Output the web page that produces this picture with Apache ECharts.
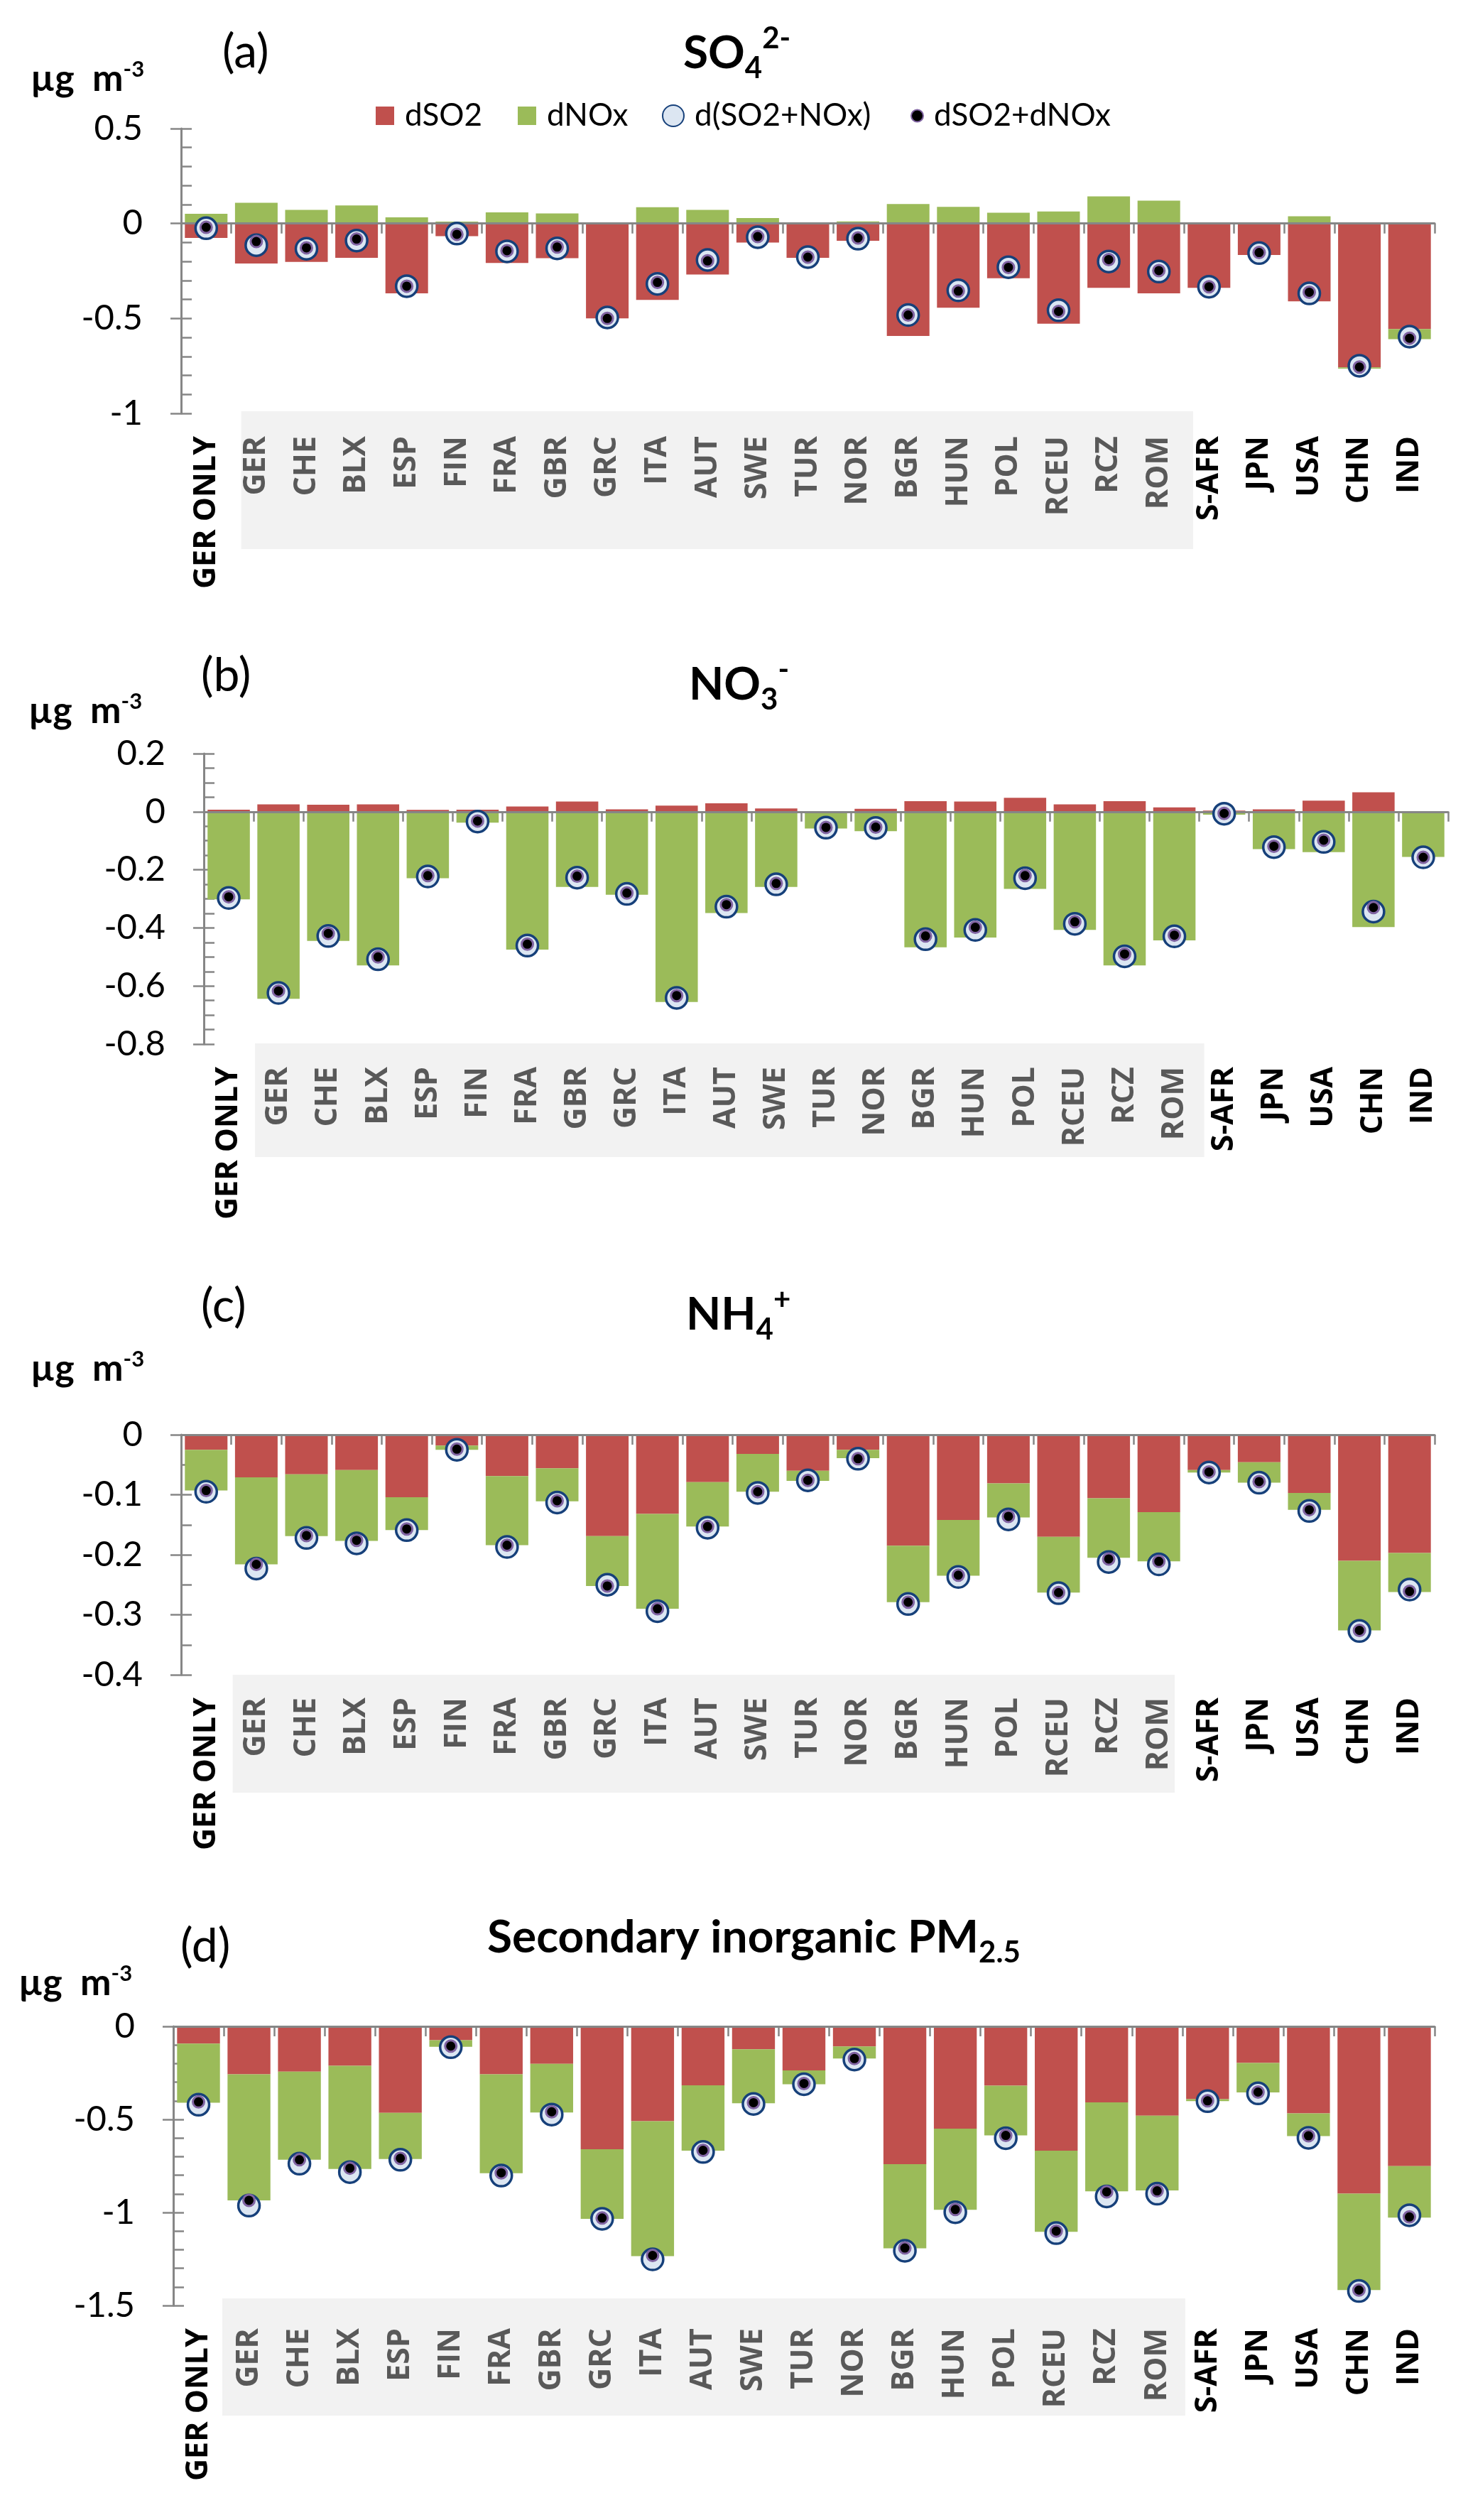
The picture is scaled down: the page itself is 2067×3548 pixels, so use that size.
<!DOCTYPE html>
<html><head><meta charset="utf-8">
<script src="https://cdn.jsdelivr.net/npm/echarts@6/dist/echarts.min.js"></script>
<style>html,body{margin:0;padding:0;background:#fff}#c{width:2067px;height:3548px}</style>
</head><body><div id="c"></div>
<script>
// ---------------- DATA ----------------
const categories = ['GER ONLY','GER','CHE','BLX','ESP','FIN','FRA','GBR','GRC','ITA','AUT','SWE','TUR','NOR','BGR','HUN','POL','RCEU','RCZ','ROM','S-AFR','JPN','USA','CHN','IND'];
const legendNames = ['dSO2','dNOx','d(SO2+NOx)','dSO2+dNOx'];

// (a) SO4 2-
const so4_dSO2  = [-0.076,-0.211,-0.202,-0.181,-0.368,-0.067,-0.208,-0.183,-0.500,-0.402,-0.269,-0.100,-0.181,-0.091,-0.592,-0.444,-0.288,-0.528,-0.339,-0.368,-0.339,-0.166,-0.410,-0.758,-0.556];
const so4_dNOx  = [0.051,0.109,0.072,0.095,0.032,0.010,0.059,0.053,0.000,0.086,0.072,0.029,0.000,0.011,0.103,0.088,0.057,0.063,0.143,0.120,0.000,0.004,0.038,-0.006,-0.053];
const so4_dBoth = [-0.025,-0.114,-0.133,-0.090,-0.330,-0.053,-0.147,-0.131,-0.495,-0.318,-0.192,-0.072,-0.177,-0.080,-0.482,-0.352,-0.230,-0.457,-0.200,-0.253,-0.333,-0.156,-0.368,-0.749,-0.596];
const so4_dSum  = [-0.020,-0.095,-0.128,-0.082,-0.330,-0.057,-0.143,-0.124,-0.500,-0.310,-0.197,-0.069,-0.177,-0.076,-0.482,-0.356,-0.231,-0.463,-0.190,-0.248,-0.333,-0.153,-0.362,-0.756,-0.604];
const so4_ticks = [-1,-0.5,0,0.5];

// (b) NO3-
const no3_dSO2  = [0.007,0.025,0.024,0.025,0.006,0.007,0.018,0.035,0.008,0.021,0.029,0.011,0.000,0.010,0.036,0.035,0.048,0.025,0.036,0.015,0.004,0.008,0.038,0.067,0.000];
const no3_dNOx  = [-0.302,-0.644,-0.445,-0.529,-0.229,-0.038,-0.475,-0.259,-0.286,-0.655,-0.349,-0.259,-0.058,-0.067,-0.467,-0.433,-0.266,-0.407,-0.529,-0.443,-0.010,-0.129,-0.139,-0.397,-0.156];
const no3_dBoth = [-0.297,-0.624,-0.428,-0.508,-0.223,-0.034,-0.461,-0.227,-0.283,-0.641,-0.327,-0.250,-0.055,-0.056,-0.439,-0.407,-0.229,-0.386,-0.498,-0.429,-0.007,-0.122,-0.104,-0.344,-0.157];
const no3_dSum  = [-0.293,-0.617,-0.419,-0.500,-0.220,-0.032,-0.456,-0.222,-0.280,-0.633,-0.320,-0.247,-0.054,-0.053,-0.428,-0.398,-0.220,-0.379,-0.490,-0.425,-0.006,-0.119,-0.098,-0.330,-0.157];
const no3_ticks = [-0.8,-0.6,-0.4,-0.2,0,0.2];

// (c) NH4+
const nh4_dSO2  = [-0.025,-0.071,-0.066,-0.059,-0.104,-0.018,-0.069,-0.056,-0.169,-0.132,-0.079,-0.032,-0.060,-0.025,-0.185,-0.142,-0.081,-0.170,-0.106,-0.129,-0.059,-0.046,-0.097,-0.210,-0.197];
const nh4_dNOx  = [-0.068,-0.145,-0.103,-0.118,-0.055,-0.007,-0.115,-0.055,-0.083,-0.158,-0.074,-0.063,-0.017,-0.014,-0.094,-0.093,-0.057,-0.093,-0.099,-0.082,-0.004,-0.034,-0.028,-0.116,-0.065];
const nh4_dBoth = [-0.095,-0.223,-0.172,-0.181,-0.159,-0.025,-0.187,-0.113,-0.250,-0.294,-0.155,-0.097,-0.076,-0.040,-0.282,-0.237,-0.141,-0.264,-0.212,-0.216,-0.063,-0.080,-0.127,-0.327,-0.258];
const nh4_dSum  = [-0.093,-0.216,-0.168,-0.176,-0.157,-0.024,-0.184,-0.110,-0.252,-0.290,-0.153,-0.095,-0.076,-0.040,-0.279,-0.234,-0.136,-0.263,-0.207,-0.211,-0.062,-0.078,-0.125,-0.326,-0.261];
const nh4_ticks = [-0.4,-0.3,-0.2,-0.1,0];

// (d) Secondary inorganic PM2.5
const sia_dSO2  = [-0.093,-0.258,-0.243,-0.212,-0.465,-0.074,-0.258,-0.201,-0.660,-0.510,-0.317,-0.123,-0.237,-0.108,-0.740,-0.550,-0.319,-0.668,-0.408,-0.480,-0.391,-0.197,-0.468,-0.899,-0.751];
const sia_dNOx  = [-0.317,-0.677,-0.474,-0.554,-0.248,-0.036,-0.531,-0.262,-0.374,-0.725,-0.351,-0.290,-0.074,-0.065,-0.453,-0.436,-0.267,-0.436,-0.478,-0.402,-0.011,-0.158,-0.122,-0.518,-0.277];
const sia_dBoth = [-0.421,-0.963,-0.738,-0.783,-0.717,-0.112,-0.802,-0.474,-1.034,-1.252,-0.675,-0.417,-0.311,-0.178,-1.206,-0.999,-0.601,-1.111,-0.914,-0.899,-0.402,-0.360,-0.599,-1.422,-1.015];
const sia_dSum  = [-0.406,-0.935,-0.717,-0.762,-0.709,-0.106,-0.787,-0.459,-1.030,-1.231,-0.666,-0.410,-0.307,-0.173,-1.191,-0.984,-0.586,-1.100,-0.889,-0.884,-0.400,-0.353,-0.588,-1.417,-1.024];
const sia_ticks = [-1.5,-1,-0.5,0];

// ---------------- LAYOUT ----------------
const panels = [
  {tag:'(a)', title:'{m|SO}{sub|4}{sup|2-}', d:[so4_dSO2,so4_dNOx,so4_dBoth,so4_dSum], ticks:so4_ticks, minor:5,
   L:{grid:{left:255,top:181,width:1765,height:401}, tx:962, ty:75, gx:313, gy:74, ux:43, uy:111, box:[14,13,-3,194]}},
  {tag:'(b)', title:'{m|NO}{sub|3}{sup|-}', d:[no3_dSO2,no3_dNOx,no3_dBoth,no3_dSum], ticks:no3_ticks, minor:4,
   L:{grid:{left:287,top:1061,width:1752,height:409}, tx:970, ty:964, gx:283, gy:952, ux:40, uy:1001, box:[2,7,-1,160]}},
  {tag:'(c)', title:'{m|NH}{sub|4}{sup|+}', d:[nh4_dSO2,nh4_dNOx,nh4_dBoth,nh4_dSum], ticks:nh4_ticks, minor:2,
   L:{grid:{left:255,top:2020,width:1765,height:338}, tx:966, ty:1851, gx:283, gy:1840, ux:43, uy:1927, box:[2,-13,0,166]}},
  {tag:'(d)', title:'{m|Secondary inorganic PM}{sub|2.5}', d:[sia_dSO2,sia_dNOx,sia_dBoth,sia_dSum], ticks:sia_ticks, minor:5,
   L:{grid:{left:244,top:2853,width:1776,height:393}, tx:686, ty:2728, gx:254, gy:2741, ux:26, uy:2792, box:[-2,4,-10,165]}}
];

const AX = '#868686';
const FONT = 'Lato';
const titleRich = {
  m:{fontFamily:FONT, fontWeight:'bold', fontSize:64, lineHeight:84, color:'#000'},
  sub:{fontFamily:FONT, fontWeight:'bold', fontSize:42, lineHeight:35, verticalAlign:'bottom', color:'#000'},
  sup:{fontFamily:FONT, fontWeight:'bold', fontSize:42, lineHeight:60, verticalAlign:'top', color:'#000'}
};
const unitRich = {
  u:{fontFamily:FONT, fontWeight:'bold', fontSize:52, lineHeight:58, color:'#000'},
  s:{fontFamily:FONT, fontWeight:'bold', fontSize:31, lineHeight:30, verticalAlign:'top', color:'#000'}
};

const chart = echarts.init(document.getElementById('c'), null, {renderer:'canvas', width:2067, height:3548});
const option = {backgroundColor:'#ffffff', animation:false, grid:[], xAxis:[], yAxis:[], series:[], title:[], legend:[]};

panels.forEach((p, i) => {
  const L = p.L;
  option.grid.push(Object.assign({containLabel:false, outerBoundsMode:'none', show:false}, L.grid));
  // axis line at zero with ticks
  option.xAxis.push({type:'category', data:categories, gridIndex:i, position:'bottom', z:5,
    axisLine:{show:true, onZero:true, lineStyle:{color:AX, width:3}},
    axisTick:{show:true, length:14, interval:0, lineStyle:{color:AX, width:2.5}},
    axisLabel:{show:false}, splitLine:{show:false}});
  // labels at bottom
  option.xAxis.push({type:'category', data:categories, gridIndex:i, position:'bottom',
    axisLine:{show:false, onZero:false}, axisTick:{show:false}, splitLine:{show:false},
    axisLabel:{show:true, interval:0, rotate:90, margin:32, hideOverlap:false,
      fontFamily:'Open Sans', fontWeight:'bold', fontSize:43,
      color:(v) => { const k = categories.indexOf(v); return (k >= 1 && k <= 19) ? '#595959' : '#000000'; }}});
  const t = p.ticks;
  const min = t[0], max = t[t.length-1], interval = +(t[1]-t[0]).toFixed(6);
  option.yAxis.push({type:'value', gridIndex:i, position:'left', min, max, interval,
    axisLine:{show:true, lineStyle:{color:AX, width:3}},
    axisTick:{show:true, inside:false, length:15, lineStyle:{color:AX, width:2.5}},
    minorTick:{show:false}, splitLine:{show:false},
    axisLabel:{show:true, margin:54, fontFamily:FONT, fontSize:49, color:'#000'}});
  option.yAxis.push({type:'value', gridIndex:i, position:'left', min, max, interval,
    axisLine:{show:false}, axisLabel:{show:false}, splitLine:{show:false},
    axisTick:{show:true, inside:true, length:15, lineStyle:{color:AX, width:2.5}},
    minorTick:{show:true, splitNumber:p.minor, length:15, lineStyle:{color:AX, width:2.5}}});
  const xi = 2*i, yi = 2*i;
  option.series.push({name:legendNames[0], type:'bar', xAxisIndex:xi, yAxisIndex:yi, stack:'s'+i, barWidth:'85%',
    data:p.d[0], itemStyle:{color:'#C0504D'}, emphasis:{disabled:true}});
  option.series.push({name:legendNames[1], type:'bar', xAxisIndex:xi, yAxisIndex:yi, stack:'s'+i, barWidth:'85%',
    data:p.d[1], itemStyle:{color:'#9BBB59'}, emphasis:{disabled:true}});
  option.series.push({name:legendNames[2], type:'scatter', xAxisIndex:xi, yAxisIndex:yi, z:10,
    data:p.d[2], symbol:'circle', symbolSize:30, itemStyle:{color:'#DCE6F2', borderColor:'#16407A', borderWidth:3.5, opacity:1}, emphasis:{disabled:true}});
  option.series.push({name:legendNames[3], type:'scatter', xAxisIndex:xi, yAxisIndex:yi, z:11,
    data:p.d[3], symbol:'circle', symbolSize:16, itemStyle:{color:'#000000', borderColor:'#8064A2', borderWidth:3, opacity:1}, emphasis:{disabled:true}});

  option.title.push({text:p.title, left:L.tx, top:L.ty-42, padding:0, textStyle:{rich:titleRich}});
  option.title.push({text:p.tag, left:L.gx, top:L.gy-39, padding:0,
    textStyle:{fontFamily:FONT, fontWeight:'normal', fontSize:66, lineHeight:78, color:'#000'}});
  option.title.push({text:'{u|µg  m}{s|-3}', left:L.ux, top:L.uy-29, padding:0, textStyle:{rich:unitRich}});
});

const legX = [529, 729, 932, 1282];
const legSize = [[26,26],[26,26],[30,30],[17,17]];
legendNames.forEach((n, k) => {
  option.legend.push({data:[{name:n, icon: k < 2 ? 'rect' : 'circle'}], left:legX[k], top:138, padding:0,
    itemWidth:legSize[k][0], itemHeight:legSize[k][1], selectedMode:false,
    textStyle:{fontFamily:FONT, fontSize:44, lineHeight:50, color:'#000', padding:[0,0,0,10]}});
});

chart.setOption(option);

// grey label boxes behind the European group of categories
const graphics = [];
panels.forEach((p, i) => {
  const xi = 2*i, yi = 2*i, b = p.L.box;
  const c0 = chart.convertToPixel({xAxisIndex:xi}, categories[0]);
  const c1 = chart.convertToPixel({xAxisIndex:xi}, categories[1]);
  const c19 = chart.convertToPixel({xAxisIndex:xi}, categories[19]);
  const cw = c1 - c0;
  const yb = chart.convertToPixel({yAxisIndex:yi}, p.ticks[0]);
  const x0 = c1 - cw/2 + b[0];
  const x1 = c19 + cw/2 + b[1];
  graphics.push({type:'rect', z:-10, silent:true, shape:{x:x0, y:yb + b[2], width:x1 - x0, height:b[3]}, style:{fill:'#F2F2F2'}});
});
chart.setOption({graphic:graphics});
</script></body></html>
